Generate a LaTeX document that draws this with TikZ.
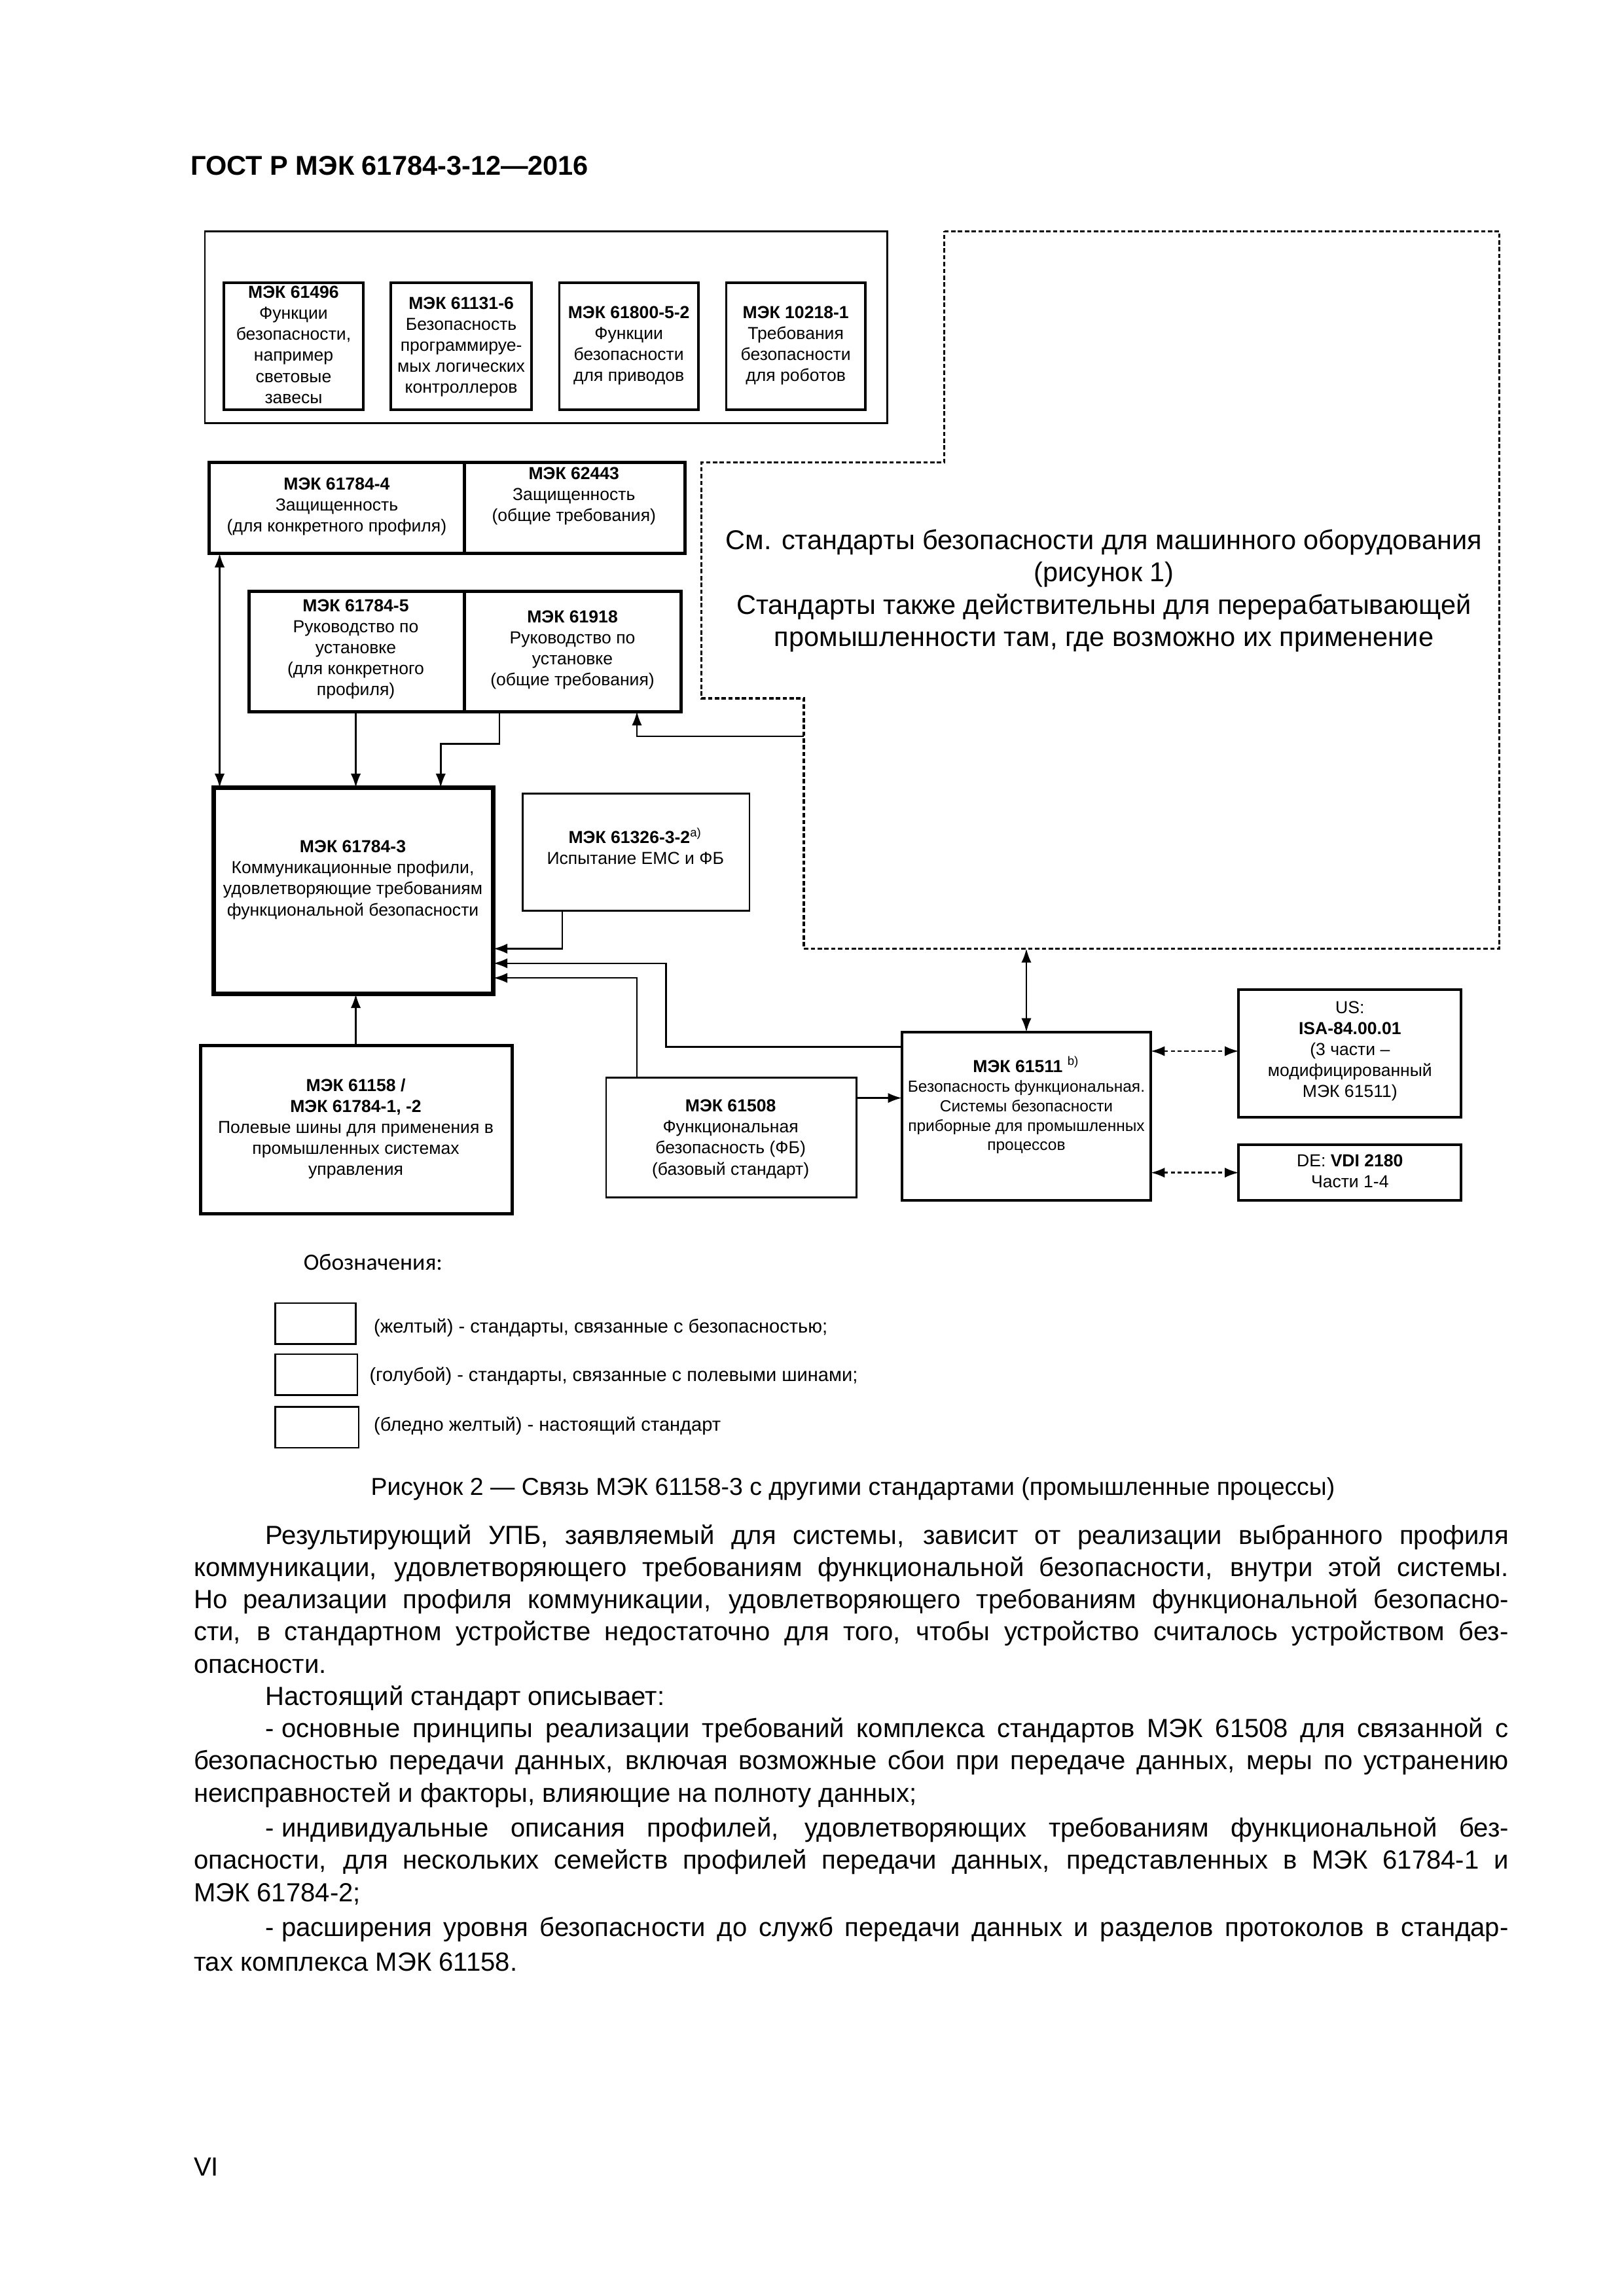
\documentclass[tikz,border=0pt]{standalone}
\usepackage{fontspec}
\setmainfont{Liberation Sans}
\newfontfamily\calfont{Carlito}
\usetikzlibrary{arrows.meta}
\newcommand\bx[9]{%
  \node[#1, minimum width={(#5-#3)*0.18938mm}, minimum height={(#6-#4)*0.18938mm}] (#2) at ({(#3+#5)/2},{(#4+#6)/2}) {};
  \node[txt] (#2-t) at (#7,#8) {#9};}
\newcommand\jline[5]{\node[bodyt] (#1) at (#2,#3) {\makebox[#4][s]{#5}};}
\begin{document}
\begin{tikzpicture}[x=0.18938mm, y=-0.18938mm,
  box/.style={draw, inner sep=0pt, outer sep=0pt},
  thinb/.style={box, line width=0.6pt},
  medb/.style={box, line width=0.9pt},
  thickb/.style={box, line width=1.2pt},
  heavyb/.style={box, line width=1.7pt},
  txt/.style={align=center, font=\fontsize{6.4}{7.75}\selectfont, inner sep=0pt},
  tip/.tip={Latex[length=1.8mm,width=1.3mm]},
  arr/.style={line width=0.6pt, -tip},
  arrb/.style={line width=0.6pt, tip-tip},
  darr/.style={arrb, dash pattern=on 1.5pt off 1pt},
  region/.style={line width=0.8pt, dash pattern=on 1.6pt off 0.9pt},
  bodyt/.style={anchor=west, inner sep=0pt, font=\fontsize{9.65}{11.9}\selectfont},
  legt/.style={anchor=west, inner sep=0pt, font=\fontsize{7}{8}\selectfont}]
\useasboundingbox (0mm,0mm) rectangle (210mm,-297mm);

% header
\node[anchor=west, inner sep=0pt, font=\fontsize{10}{12}\selectfont\bfseries] (hdr) at (130,113) {ГОСТ Р МЭК 61784-3-12—2016};

% top group
\node[thinb, minimum width={466*0.18938mm}, minimum height={131*0.18938mm}] (topgrp) at (373,223.5) {};
\bx{medb}{a1}{153}{193}{248}{280}{200.5}{235.5}{\textbf{МЭК 61496}\\Функции\\безопасности,\\например\\световые\\завесы}
\bx{medb}{a2}{267}{193}{363}{280}{315}{237}{\textbf{МЭК 61131-6}\\Безопасность\\программируе-\\мых логических\\контроллеров}
\bx{medb}{a3}{382}{193}{477}{280}{429.5}{236}{\textbf{МЭК 61800-5-2}\\Функции\\безопасности\\для приводов}
\bx{medb}{a4}{496}{193}{591}{280}{543.5}{236}{\textbf{МЭК 10218-1}\\Требования\\безопасности\\для роботов}

% row 2
\bx{thickb}{r2l}{143}{316}{317}{378}{230}{346}{\textbf{МЭК 61784-4}\\Защищенность\\(для конкретного профиля)}
\bx{thickb}{r2r}{317}{316}{468}{378}{392}{339}{\textbf{МЭК 62443}\\Защищенность\\(общие требования)}

% row 3
\bx{thickb}{r3l}{170}{404}{317}{486}{243}{443.5}{\textbf{МЭК 61784-5}\\Руководство по\\установке\\(для конкретного\\профиля)}
\bx{thickb}{r3r}{317}{404}{465}{486}{391}{444}{\textbf{МЭК 61918}\\Руководство по\\установке\\(общие требования)}

% dashed region
\draw[region] (645,158) -- (1024,158) -- (1024,648) -- (549,648) -- (549,477) -- (479,477) -- (479,316) -- (645,316) -- cycle;
\node[align=center, inner sep=0pt, font=\fontsize{10}{11.9}\selectfont] (regtxt) at (754,403.5)
 {См. стандарты безопасности для машинного оборудования\\(рисунок 1)\\Стандарты также действительны для перерабатывающей\\промышленности там, где возможно их применение};
\coordinate (rleft) at (549,503);
\coordinate (rbot) at (701,648);

% main boxes
\bx{heavyb}{main}{146}{538}{337}{679}{241}{601}{\textbf{МЭК 61784-3}\\Коммуникационные профили,\\удовлетворяющие требованиям\\функциональной безопасности}
\bx{thinb}{emc}{357}{542}{512}{622}{434}{578}{\textbf{МЭК 61326-3-2}\textsuperscript{a)}\\Испытание ЕМС и ФБ}
\bx{thickb}{fb}{137}{714}{350}{829}{243}{771}{\textbf{МЭК 61158 /}\\\textbf{МЭК 61784-1, -2}\\Полевые шины для применения в\\промышленных системах\\управления}
\bx{thinb}{iec61508}{414}{736}{585}{818}{499}{778}{\textbf{МЭК 61508}\\Функциональная\\безопасность (ФБ)\\(базовый стандарт)}
\node[medb, minimum width={170*0.18938mm}, minimum height={115*0.18938mm}] (iec61511) at (701,762.5) {};
\node[txt, font=\fontsize{5.9}{7.2}\selectfont] (iec61511-t) at (701,755)
 {{\fontsize{6.4}{7.2}\selectfont\textbf{МЭК 61511} \textsuperscript{b)}}\\Безопасность функциональная.\\Системы безопасности\\приборные для промышленных\\процессов};
\bx{medb}{us}{846}{676}{998}{763}{922}{718}{US:\\\textbf{ISA-84.00.01}\\(3 части –\\модифицированный\\МЭК 61511)}
\bx{medb}{de}{846}{782}{998}{820}{922}{800}{DE: \textbf{VDI 2180}\\Части 1-4}

% connectors
\draw[arrb] (r2l.south -| 150,0) -- (main.north -| 150,0);
\draw[arr] (r3l.south -| 243,0) -- (main.north -| 243,0);
\draw[arr] (r3r.south -| 341,0) -- (341,508) -- (301,508) -- (main.north -| 301,0);
\draw[arr] (rleft) -- (435,503) -- (r3r.south -| 435,0);
\draw[arr] (emc.south -| 384,0) -- (384,648) -- (main.east |- 0,648);
\draw[arr] (iec61511.west |- 0,715) -- (455,715) -- (455,658) -- (main.east |- 0,658);
\draw[arr] (iec61508.north -| 435,0) -- (435,668) -- (main.east |- 0,668);
\draw[arr] (fb.north -| 243,0) -- (main.south -| 243,0);
\draw[arr] (iec61508.east |- 0,750) -- (iec61511.west |- 0,750);
\draw[arrb] (rbot) -- (iec61511.north -| 701,0);
\draw[darr] (iec61511.east |- 0,718) -- (us.west |- 0,718);
\draw[darr] (iec61511.east |- 0,801) -- (de.west |- 0,801);

% legend
\node[anchor=west, inner sep=0pt, font=\calfont\fontsize{8.6}{10}\selectfont] (legtitle) at (207,862) {Обозначения:};
\node[thinb, minimum width={55*0.18938mm}, minimum height={28*0.18938mm}] (leg1) at (215.5,904) {};
\node[thinb, minimum width={56*0.18938mm}, minimum height={28*0.18938mm}] (leg2) at (216,939) {};
\node[thinb, minimum width={57*0.18938mm}, minimum height={28*0.18938mm}] (leg3) at (216.5,975) {};
\node[legt] (leg1t) at (255,907) {(желтый) - стандарты, связанные с безопасностью;};
\node[legt] (leg2t) at (252,940) {(голубой) - стандарты, связанные с полевыми шинами;};
\node[legt] (leg3t) at (255,974) {(бледно желтый) - настоящий стандарт};

% caption
\node[inner sep=0pt, font=\fontsize{9}{11}\selectfont] (cap) at (582.5,1017) {Рисунок 2 — Связь МЭК 61158-3 с другими стандартами (промышленные процессы)};

% body text
\jline{b1}{181}{1050}{160.78mm}{Результирующий УПБ, заявляемый для системы, зависит от реализации выбранного профиля}
\jline{b2}{132}{1072}{170.06mm}{коммуникации, удовлетворяющего требованиям функциональной безопасности, внутри этой системы.}
\jline{b3}{132}{1094}{170.06mm}{Но реализации профиля коммуникации, удовлетворяющего требованиям функциональной безопасно-}
\jline{b4}{132}{1116}{170.06mm}{сти, в стандартном устройстве недостаточно для того, чтобы устройство считалось устройством без-}
\node[bodyt] (b5) at (132,1138) {опасности.};
\node[bodyt] (b6) at (181,1160) {Настоящий стандарт описывает:};
\jline{b7}{181}{1182}{160.78mm}{-\hspace{0.28em}основные принципы реализации требований комплекса стандартов МЭК 61508 для связанной с}
\jline{b8}{132}{1204}{170.06mm}{безопасностью передачи данных, включая возможные сбои при передаче данных, меры по устранению}
\node[bodyt] (b9) at (132,1226) {неисправностей и факторы, влияющие на полноту данных;};
\jline{b10}{181}{1250}{160.78mm}{-\hspace{0.28em}индивидуальные описания профилей, удовлетворяющих требованиям функциональной без-}
\jline{b11}{132}{1272}{170.06mm}{опасности, для нескольких семейств профилей передачи данных, представленных в МЭК 61784-1 и}
\node[bodyt] (b12) at (132,1294) {МЭК 61784-2;};
\jline{b13}{181}{1318}{160.78mm}{-\hspace{0.28em}расширения уровня безопасности до служб передачи данных и разделов протоколов в стандар-}
\node[bodyt] (b14) at (132,1340) {тах комплекса МЭК 61158.};

% page number
\node[bodyt] (pg) at (132,1480) {VI};
\end{tikzpicture}
\end{document}
